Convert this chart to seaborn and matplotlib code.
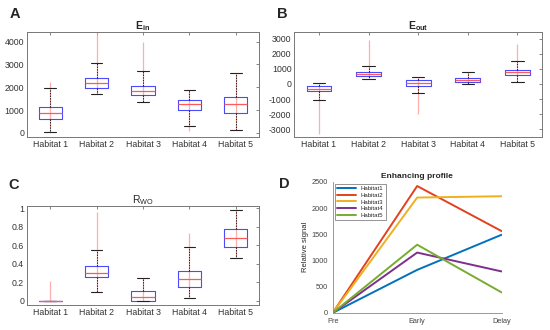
import matplotlib
matplotlib.use("Agg")
import matplotlib.pyplot as plt
import pandas as pd
import seaborn as sns
import numpy as np

habitats = ["Habitat 1", "Habitat 2", "Habitat 3", "Habitat 4", "Habitat 5"]

# five-number summaries per habitat: lower whisker, q1, median, q3, upper whisker
ein_stats = [[30, 600, 890, 1140, 1985],
             [1710, 1985, 2190, 2420, 3080],
             [1340, 1650, 1850, 2070, 2700],
             [320, 1010, 1255, 1460, 1870],
             [120, 875, 1255, 1580, 2630]]
ein_out_lo = [30, 1710, 1340, 80, 120]
ein_out_hi = [2250, 4420, 4000, 1870, 2630]

eout_stats = [[-1060, -490, -310, -130, 90],
              [350, 510, 660, 820, 1190],
              [-600, -110, 65, 240, 460],
              [20, 130, 265, 400, 790],
              [110, 600, 790, 950, 1520]]
eout_out_lo = [-3300, 350, -1960, 20, 110]
eout_out_hi = [90, 2890, 460, 790, 2670]

rwo_stats = [[0, 0, 0, 0, 0],
             [0.094, 0.252, 0.302, 0.374, 0.55],
             [0, 0, 0.036, 0.108, 0.248],
             [0.025, 0.151, 0.234, 0.32, 0.579],
             [0.464, 0.579, 0.673, 0.78, 0.986]]
rwo_out_lo = [0, 0.094, 0, 0.025, 0.464]
rwo_out_hi = [0.215, 0.96, 0.248, 0.727, 0.986]

phases = ["Pre", "Early", "Delay"]
profile_names = ["Habitat1", "Habitat2", "Habitat3", "Habitat4", "Habitat5"]
profile_h1 = [0, 820, 1490]
profile_h2 = [0, 2420, 1560]
profile_h3 = [0, 2200, 2225]
profile_h4 = [0, 1150, 790]
profile_h5 = [0, 1300, 390]
profile_colors = ["#0072BD", "#E2411F", "#EDB120", "#7E2F8E", "#77AC30"]

sns.set_style("white")
plt.rcParams["font.family"] = ["Liberation Sans", "DejaVu Sans"]
plt.rcParams["mathtext.fontset"] = "custom"
plt.rcParams["mathtext.rm"] = "Liberation Sans"
plt.rcParams["mathtext.bf"] = "Liberation Sans:bold"

fig = plt.figure(figsize=(5.5, 3.3), dpi=100)


def box_panel(rect, stats, out_lo, out_hi, title, ylim, yticks, yticklabels):
    ax = fig.add_axes(rect)
    rows = []
    for name, st in zip(habitats, stats):
        for v in st:
            rows.append((name, v))
    df = pd.DataFrame(rows, columns=["habitat", "value"])
    # outlier crosses are so dense they read as a thin red line
    ax.vlines(range(len(habitats)), out_lo, out_hi, color="#ff9a9a",
              linewidth=0.9, alpha=0.8, zorder=1)
    sns.boxplot(data=df, x="habitat", y="value", whis=(0, 100), width=0.5,
                fill=False, ax=ax, showfliers=False,
                boxprops=dict(color="#4a4aff", linewidth=0.8),
                medianprops=dict(color="#ff5a5a", linewidth=0.9),
                whiskerprops=dict(color="#222222", linestyle=(0, (1.5, 1.2)), linewidth=0.7),
                capprops=dict(color="#222222", linewidth=0.8))
    ax.set_xlim(-0.5, 4.5)
    ax.set_ylim(*ylim)
    ax.set_yticks(yticks)
    ax.set_yticklabels(yticklabels)
    ax.set_xlabel("")
    ax.set_ylabel("")
    ax.set_title(title, fontsize=7.5, pad=2)
    ax.tick_params(direction="in", length=2, width=0.5, labelsize=6.3,
                   top=True, right=True, colors="#555555", labelcolor="#333333", pad=2)
    for s in ax.spines.values():
        s.set_color("#777777")
        s.set_linewidth(0.7)
    return ax


box_panel([0.049, 0.585, 0.422, 0.318], ein_stats, ein_out_lo, ein_out_hi,
          r"$\mathbf{E_{in}}$", (-180, 4420), [0, 1000, 2000, 3000, 4000],
          ["0", "1000", "2000", "3000", "4000"])
box_panel([0.535, 0.585, 0.451, 0.318], eout_stats, eout_out_lo, eout_out_hi,
          r"$\mathbf{E_{out}}$", (-3510, 3440),
          [-3000, -2000, -1000, 0, 1000, 2000, 3000],
          ["-3000", "-2000", "-1000", "0", "1000", "2000", "3000"])
box_panel([0.049, 0.076, 0.422, 0.300], rwo_stats, rwo_out_lo, rwo_out_hi,
          r"$\mathrm{R_{WO}}$", (-0.047, 1.025), [0, 0.2, 0.4, 0.6, 0.8, 1],
          ["0", "0.2", "0.4", "0.6", "0.8", "1"])

# panel D: enhancing profile
axd = fig.add_axes([0.605, 0.052, 0.307, 0.397])
prof = pd.DataFrame({"phase": phases * 5,
                     "signal": profile_h1 + profile_h2 + profile_h3 + profile_h4 + profile_h5,
                     "habitat": np.repeat(profile_names, 3)})
sns.lineplot(data=prof, x="phase", y="signal", hue="habitat", palette=profile_colors,
             linewidth=1.4, ax=axd, sort=False)
axd.set_xlim(0, 2)
axd.set_ylim(0, 2500)
axd.set_yticks([0, 500, 1000, 1500, 2000, 2500])
axd.set_xlabel("")
axd.set_ylabel("Relative signal", fontsize=5.5, labelpad=2)
axd.set_title("Enhancing profile", fontsize=6, fontweight="bold", pad=3)
axd.tick_params(direction="out", length=2, width=0.5, labelsize=5.3,
                colors="#666666", labelcolor="#444444", pad=1.5)
sns.despine(ax=axd)
for s in ["left", "bottom"]:
    axd.spines[s].set_color("#888888")
    axd.spines[s].set_linewidth(0.6)
leg = axd.legend(loc="upper left", fontsize=4.3, handlelength=3.2, borderaxespad=0.3,
                 labelspacing=0.25, frameon=True, fancybox=False, borderpad=0.4,
                 title=None)
leg.get_frame().set_edgecolor("#444444")
leg.get_frame().set_linewidth(0.5)

for lbl, x, y in [("A", 10, 14), ("B", 277, 14), ("C", 8, 185), ("D", 279, 184)]:
    fig.text(x / 550, 1 - y / 330, lbl, fontsize=10.5, fontweight="bold",
             ha="left", va="center")

fig.savefig("out.png", dpi=100)
